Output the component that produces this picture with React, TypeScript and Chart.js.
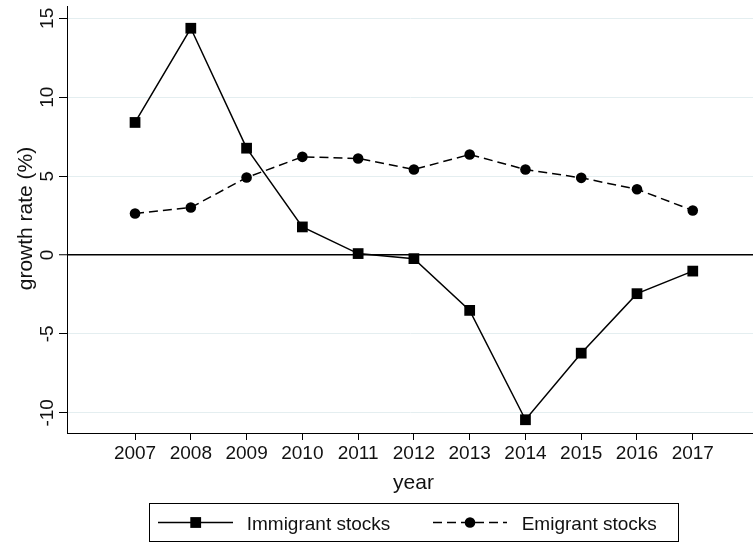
import React, { useEffect, useRef } from 'react';
import { Chart, registerables } from 'chart.js';

Chart.register(...registerables);

const years = [2007, 2008, 2009, 2010, 2011, 2012, 2013, 2014, 2015, 2016, 2017];
const immigrant = [8.4, 14.37, 6.77, 1.78, 0.09, -0.23, -3.51, -10.44, -6.22, -2.45, -1.02];
const emigrant = [2.63, 3.01, 4.91, 6.22, 6.12, 5.42, 6.37, 5.42, 4.89, 4.17, 2.82];
const yTicks = [-10, -5, 0, 5, 10, 15];
const seriesNames = ['Immigrant stocks', 'Emigrant stocks'];
const xTitle = 'year';
const yTitle = 'growth rate (%)';

const FONT = '"Liberation Sans", Arial, Helvetica, sans-serif';
const TEXT = '#111';

const customText = {
  id: 'customText',
  afterDraw(chart: any) {
    const ctx = chart.ctx as CanvasRenderingContext2D;
    const y = chart.scales.y;
    const area = chart.chartArea;
    ctx.save();
    ctx.fillStyle = TEXT;
    // y tick labels (rotated)
    ctx.font = `19px ${FONT}`;
    ctx.textAlign = 'center';
    ctx.textBaseline = 'alphabetic';
    for (const v of yTicks) {
      const py = y.getPixelForValue(v);
      ctx.save();
      ctx.translate(52.5, py);
      ctx.rotate(-Math.PI / 2);
      ctx.fillText(String(v), 0, 0);
      ctx.restore();
    }
    // y title
    ctx.font = `21px ${FONT}`;
    ctx.save();
    ctx.translate(31.5, (area.top + area.bottom) / 2 - 1);
    ctx.rotate(-Math.PI / 2);
    ctx.fillText(yTitle, 0, 0);
    ctx.restore();
    // x title
    ctx.fillText(xTitle, 413.5, 488.5);

    // legend
    ctx.strokeStyle = '#000';
    ctx.lineWidth = 1;
    ctx.strokeRect(149.5, 503.5, 529, 38);
    const ly = 522.5;
    ctx.lineWidth = 1.5;
    ctx.beginPath();
    ctx.moveTo(158, ly);
    ctx.lineTo(233, ly);
    ctx.stroke();
    ctx.fillStyle = '#000';
    ctx.fillRect(195.7 - 5.4, ly - 5.4, 10.8, 10.8);
    ctx.setLineDash([9, 5]);
    ctx.beginPath();
    ctx.moveTo(433, ly);
    ctx.lineTo(507, ly);
    ctx.stroke();
    ctx.setLineDash([]);
    ctx.beginPath();
    ctx.arc(470, ly, 5.3, 0, Math.PI * 2);
    ctx.fill();
    ctx.fillStyle = TEXT;
    ctx.font = `19px ${FONT}`;
    ctx.textAlign = 'left';
    ctx.fillText(seriesNames[0], 246.7, 529.5);
    ctx.fillText(seriesNames[1], 521.7, 529.5);
    ctx.restore();
  },
};

export default function App() {
  const ref = useRef<HTMLCanvasElement>(null);
  useEffect(() => {
    if (!ref.current) return;
    const chart = new Chart(ref.current, {
      type: 'line',
      data: {
        datasets: [
          {
            label: seriesNames[0],
            data: years.map((x, i) => ({ x, y: immigrant[i] })),
            borderColor: '#000',
            backgroundColor: '#000',
            borderWidth: 1.5,
            pointStyle: 'rect',
            pointRadius: 7.6,
            pointBorderWidth: 0,
            tension: 0,
          },
          {
            label: seriesNames[1],
            data: years.map((x, i) => ({ x, y: emigrant[i] })),
            borderColor: '#000',
            backgroundColor: '#000',
            borderWidth: 1.5,
            borderDash: [9, 5],
            pointStyle: 'circle',
            pointRadius: 5.3,
            pointBorderWidth: 0,
            tension: 0,
          },
        ],
      },
      options: {
        responsive: false,
        animation: false,
        layout: { autoPadding: false, padding: { top: 6, left: 0, right: 0, bottom: 0 } },
        plugins: { legend: { display: false }, tooltip: { enabled: false } },
        scales: {
          x: {
            type: 'linear',
            min: 2005.78,
            max: 2018.08,
            afterBuildTicks: (s: any) => {
              s.ticks = years.map((v) => ({ value: v }));
            },
            afterFit: (s: any) => {
              s.height = 110;
            },
            ticks: {
              font: { family: FONT, size: 19 },
              color: TEXT,
              padding: 2,
              maxRotation: 0,
              minRotation: 0,
              autoSkip: false,
              callback: (v: any) => String(v),
            },
            grid: { drawOnChartArea: false, drawTicks: true, tickLength: 7, tickColor: '#000', tickWidth: 1 },
            border: { display: true, color: '#000', width: 1 },
          },
          y: {
            type: 'linear',
            min: -11.28,
            max: 15.78,
            afterBuildTicks: (s: any) => {
              s.ticks = yTicks.map((v) => ({ value: v }));
            },
            afterFit: (s: any) => {
              s.width = 67;
            },
            ticks: { display: false },
            grid: {
              color: (c: any) => (c.tick && c.tick.value === 0 ? '#000' : '#e4eef0'),
              lineWidth: (c: any) => (c.tick && c.tick.value === 0 ? 1.5 : 1),
              drawTicks: true,
              tickLength: 8,
              tickColor: '#000',
              tickWidth: 1,
            },
            border: { display: true, color: '#000', width: 1 },
          },
        },
      },
      plugins: [customText],
    });
    return () => chart.destroy();
  }, []);
  return (
    <div style={{ position: 'absolute', left: 0, top: 0, width: 753, height: 543, background: '#fff' }}>
      <canvas ref={ref} width={753} height={543} />
    </div>
  );
}
